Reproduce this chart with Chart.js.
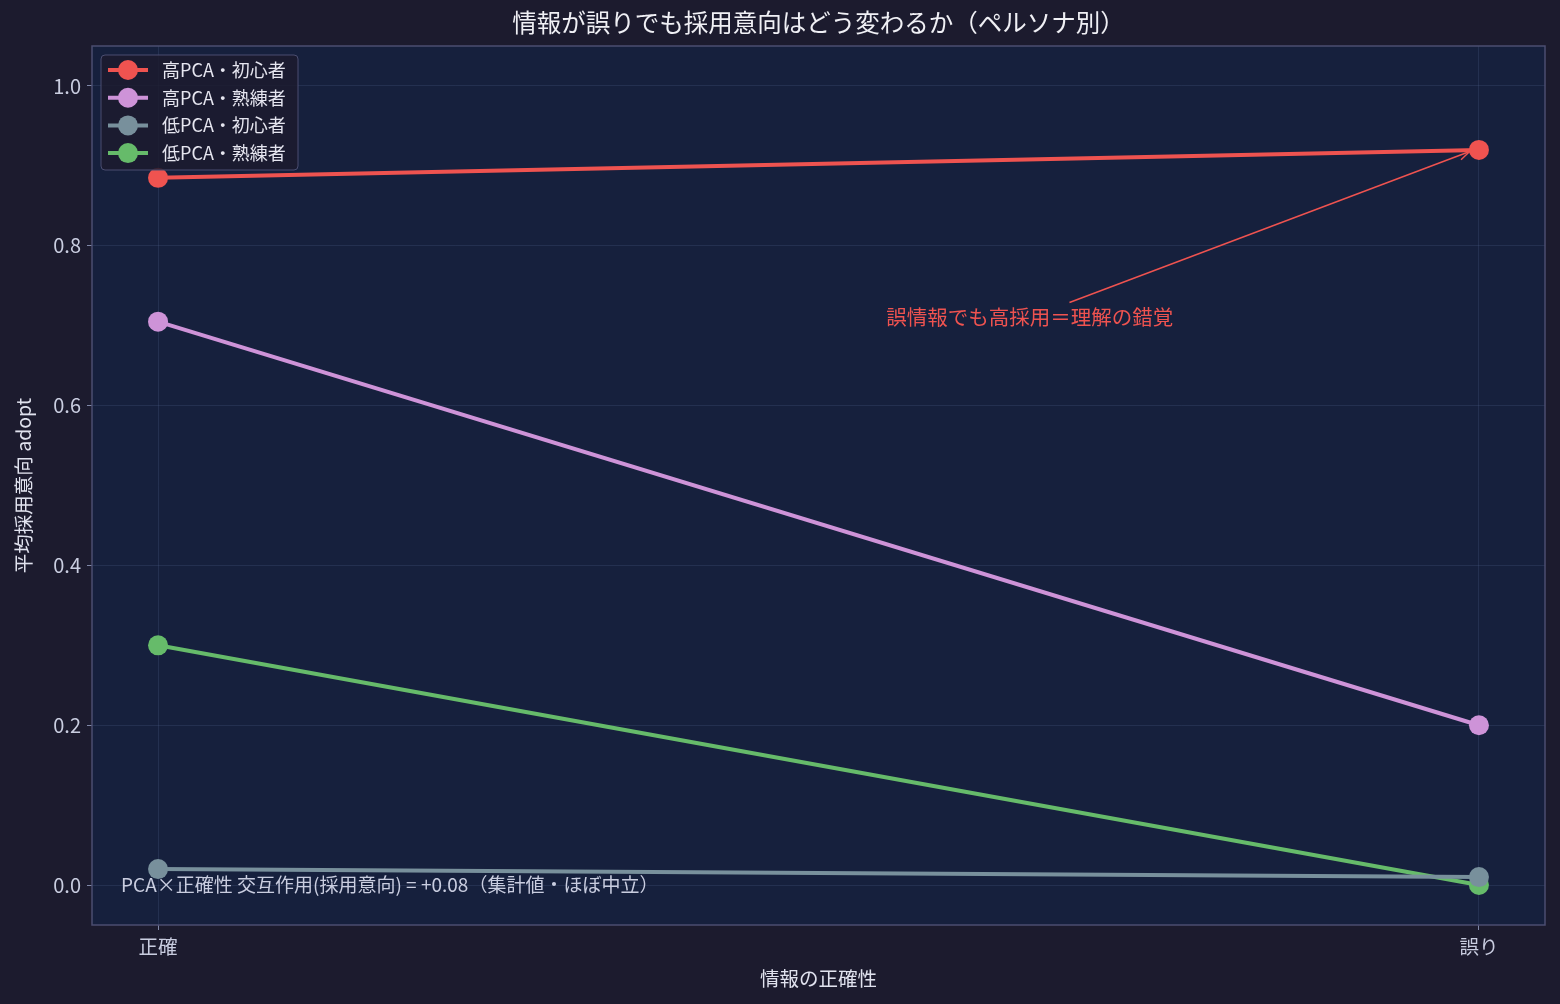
<!DOCTYPE html>
<html>
<head>
<meta charset="utf-8">
<script src="https://cdn.jsdelivr.net/npm/chart.js@4/dist/chart.umd.min.js"></script>
<style>
  html, body { margin: 0; padding: 0; background: #1c1b2e; }
  #wrap { width: 1560px; height: 1004px; }
</style>
</head>
<body>
<div id="wrap"><canvas id="chart"></canvas></div>
<script>
// 情報の正確性 (x positions 0 / 1)
const categories = ['正確', '誤り'];
const seriesNames = ['高PCA・初心者', '高PCA・熟練者', '低PCA・初心者', '低PCA・熟練者'];
const highNovice = [0.885, 0.92];
const highExpert = [0.705, 0.20];
const lowNovice = [0.02, 0.01];
const lowExpert = [0.30, 0.0];
const yTicks = [0.0, 0.2, 0.4, 0.6, 0.8, 1.0];

const colors = ['#ef5350', '#ce93d8', '#78909c', '#66bb6a'];
const FONT = '"Noto Sans CJK JP", "Noto Sans", sans-serif';
const TITLE = '情報が誤りでも採用意向はどう変わるか（ペルソナ別）';

const toPoints = arr => arr.map((v, i) => ({ x: i, y: v }));

const datasets = [highNovice, highExpert, lowNovice, lowExpert].map((vals, i) => ({
    label: seriesNames[i],
    data: toPoints(vals),
    borderColor: colors[i],
    backgroundColor: colors[i],
    borderWidth: 4,
    pointRadius: 10,
    pointHoverRadius: 10,
    pointBorderWidth: 0,
    tension: 0
}));

const decorPlugin = {
    id: 'decor',
    beforeDraw(chart) {
        const { ctx, chartArea: a } = chart;
        ctx.save();
        ctx.fillStyle = '#16203d';
        ctx.fillRect(a.left, a.top, a.right - a.left, a.bottom - a.top);
        ctx.restore();
    },
    afterDraw(chart) {
        const { ctx, chartArea: a, scales: { x, y } } = chart;
        ctx.save();
        // title centred over the plot area
        ctx.fillStyle = '#f0f0f5';
        ctx.font = '24.5px ' + FONT;
        ctx.textAlign = 'center';
        ctx.textBaseline = 'middle';
        ctx.fillText(TITLE, (a.left + a.right) / 2, 23);

        // frame
        ctx.strokeStyle = '#4b4d70';
        ctx.lineWidth = 1.5;
        ctx.strokeRect(a.left, a.top, a.right - a.left, a.bottom - a.top);

        // annotation arrow
        const sx = x.getPixelForValue(0.69), sy = y.getPixelForValue(0.729);
        const ex = x.getPixelForValue(0.993), ey = y.getPixelForValue(0.918);
        ctx.strokeStyle = '#ef5350';
        ctx.lineWidth = 1.5;
        ctx.beginPath();
        ctx.moveTo(sx, sy);
        ctx.lineTo(ex, ey);
        ctx.stroke();
        const ang = Math.atan2(ey - sy, ex - sx);
        ctx.beginPath();
        ctx.moveTo(ex - 12 * Math.cos(ang - 0.4), ey - 12 * Math.sin(ang - 0.4));
        ctx.lineTo(ex, ey);
        ctx.lineTo(ex - 12 * Math.cos(ang + 0.4), ey - 12 * Math.sin(ang + 0.4));
        ctx.stroke();
        ctx.fillStyle = '#ef5350';
        ctx.font = '20.5px ' + FONT;
        ctx.fillText('誤情報でも高採用＝理解の錯覚', x.getPixelForValue(0.66), y.getPixelForValue(0.71));

        // interaction note
        ctx.fillStyle = '#c9cde0';
        ctx.font = '19px ' + FONT;
        ctx.textAlign = 'left';
        ctx.fillText('PCA×正確性 交互作用(採用意向) = +0.08（集計値・ほぼ中立）', x.getPixelForValue(-0.028), y.getPixelForValue(0.0));

        // legend box
        const lx = a.left + 9, ly = a.top + 9, lw = 197, lh = 115;
        ctx.fillStyle = 'rgba(28,27,46,0.85)';
        ctx.strokeStyle = '#4b4d70';
        ctx.lineWidth = 1;
        ctx.beginPath();
        ctx.roundRect(lx, ly, lw, lh, 4);
        ctx.fill();
        ctx.stroke();
        ctx.font = '18px ' + FONT;
        chart.data.datasets.forEach((ds, i) => {
            const cy = ly + 15 + i * 27.7;
            ctx.strokeStyle = ds.borderColor;
            ctx.lineWidth = 4;
            ctx.beginPath();
            ctx.moveTo(lx + 7, cy);
            ctx.lineTo(lx + 47, cy);
            ctx.stroke();
            ctx.fillStyle = ds.borderColor;
            ctx.beginPath();
            ctx.arc(lx + 27, cy, 10, 0, Math.PI * 2);
            ctx.fill();
            ctx.fillStyle = '#e6e6f0';
            ctx.fillText(ds.label, lx + 61, cy);
        });
        ctx.restore();
    }
};

new Chart(document.getElementById('chart'), {
    type: 'line',
    data: { datasets },
    plugins: [decorPlugin],
    options: {
        responsive: true,
        maintainAspectRatio: false,
        animation: false,
        layout: { padding: { left: 0, right: 15, top: 46, bottom: 0 } },
        plugins: {
            legend: { display: false },
            tooltip: { enabled: false },
            title: { display: false }
        },
        scales: {
            x: {
                type: 'linear',
                min: -0.05,
                max: 1.05,
                afterBuildTicks: axis => { axis.ticks = [{ value: 0 }, { value: 1 }]; },
                afterFit: axis => { axis.height = 79; },
                ticks: {
                    color: '#c9cde0',
                    font: { family: FONT, size: 19.5 },
                    callback: v => categories[v],
                    padding: 5
                },
                grid: { color: 'rgba(80,95,140,0.25)', drawTicks: true, tickColor: '#8088a8', tickLength: 5 },
                border: { display: false },
                title: {
                    display: true,
                    text: '情報の正確性',
                    color: '#e0e2ee',
                    font: { family: FONT, size: 19.5 },
                    padding: { top: 4, bottom: 14 }
                }
            },
            y: {
                min: -0.05,
                max: 1.05,
                afterBuildTicks: axis => { axis.ticks = yTicks.map(v => ({ value: v })); },
                afterFit: axis => { axis.width = 92; },
                ticks: {
                    color: '#c9cde0',
                    font: { family: FONT, size: 20 },
                    callback: v => v.toFixed(1),
                    padding: 6
                },
                grid: { color: 'rgba(80,95,140,0.25)', drawTicks: true, tickColor: '#8088a8', tickLength: 5 },
                border: { display: false },
                title: {
                    display: true,
                    text: '平均採用意向 adopt',
                    color: '#e0e2ee',
                    font: { family: FONT, size: 19.5 },
                    padding: { top: 12, bottom: 6 }
                }
            }
        }
    }
});
</script>
</body>
</html>
